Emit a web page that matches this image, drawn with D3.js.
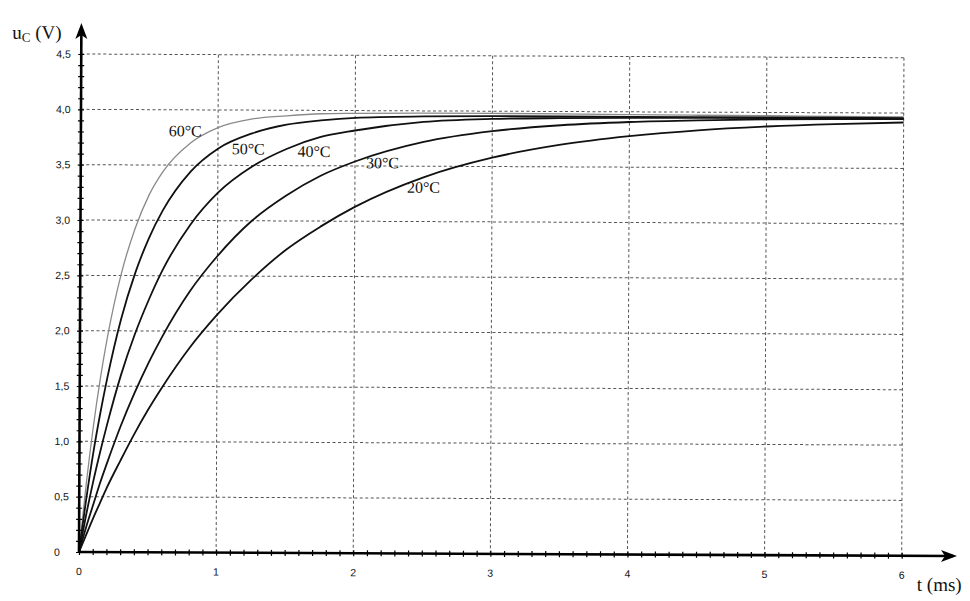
<!DOCTYPE html>
<html>
<head>
<meta charset="utf-8">
<script src="https://cdn.jsdelivr.net/npm/d3@7"></script>
<style>
  html, body { margin: 0; padding: 0; background: #fff; }
  svg { display: block; }
</style>
</head>
<body>
<svg id="chart" width="970" height="601"></svg>
<script>
// ---- data ----
const times = [0, 0.05, 0.1, 0.15, 0.2, 0.3, 0.4, 0.5, 0.6, 0.8, 1.0, 1.25, 1.5, 1.75, 2.0, 2.5, 3.0, 3.5, 4.0, 4.5, 5.0, 5.5, 6.0];
const series = ["60°C", "50°C", "40°C", "30°C", "20°C"];
const u60 = [0, 0.61, 1.13, 1.57, 1.94, 2.52, 2.93, 3.23, 3.44, 3.70, 3.84, 3.92, 3.95, 3.97, 3.975, 3.98, 3.98, 3.978, 3.975, 3.972, 3.97, 3.967, 3.965];
const u50 = [0, 0.47, 0.89, 1.25, 1.57, 2.11, 2.52, 2.84, 3.09, 3.44, 3.65, 3.79, 3.87, 3.91, 3.935, 3.95, 3.955, 3.955, 3.955, 3.955, 3.955, 3.955, 3.955];
const u40 = [0, 0.33, 0.63, 0.90, 1.15, 1.60, 1.97, 2.28, 2.55, 2.96, 3.25, 3.49, 3.65, 3.76, 3.82, 3.90, 3.93, 3.94, 3.945, 3.948, 3.95, 3.95, 3.95];
const u30 = [0, 0.22, 0.42, 0.62, 0.80, 1.14, 1.44, 1.71, 1.95, 2.36, 2.68, 3.00, 3.23, 3.41, 3.54, 3.72, 3.82, 3.876, 3.908, 3.926, 3.937, 3.943, 3.946];
const u20 = [0, 0.15, 0.30, 0.44, 0.58, 0.83, 1.07, 1.29, 1.49, 1.85, 2.15, 2.47, 2.74, 2.95, 3.13, 3.40, 3.58, 3.70, 3.78, 3.836, 3.873, 3.898, 3.915];
const xTicks = [0, 1, 2, 3, 4, 5, 6];
const yTicks = [0, 0.5, 1.0, 1.5, 2.0, 2.5, 3.0, 3.5, 4.0, 4.5];
const yTickLabels = ["0", "0,5", "1,0", "1,5", "2,0", "2,5", "3,0", "3,5", "4,0", "4,5"];
const curveLabels = [
  { name: "60°C", t: 0.64, u: 3.76 },
  { name: "50°C", t: 1.1, u: 3.6 },
  { name: "40°C", t: 1.58, u: 3.58 },
  { name: "30°C", t: 2.08, u: 3.48 },
  { name: "20°C", t: 2.38, u: 3.26 }
];
const values = [u60, u50, u40, u30, u20];

// ---- layout ----
const svg = d3.select("#chart");
const ox = 79, oy = 552;
const x = d3.scaleLinear().domain([0, 6]).range([ox, ox + 822.7]);
const y = d3.scaleLinear().domain([0, 4.5]).range([oy, oy - 498]);

// the scanned figure is slightly rotated clockwise
const g = svg.append("g").attr("transform", `rotate(0.26, ${ox}, ${oy})`);

// grid
const grid = g.append("g").attr("stroke", "#555").attr("stroke-width", 1).attr("stroke-dasharray", "3,2.5").attr("fill", "none");
grid.selectAll("line.h").data(yTicks.filter(d => d > 0)).join("line")
  .attr("class", "h")
  .attr("x1", x(0)).attr("x2", x(6))
  .attr("y1", d => y(d)).attr("y2", d => y(d));
grid.selectAll("line.v").data(xTicks.filter(d => d > 0)).join("line")
  .attr("class", "v")
  .attr("x1", d => x(d)).attr("x2", d => x(d))
  .attr("y1", y(0)).attr("y2", y(4.5));

// curves
const line = d3.line().x((d, i) => x(times[i])).y(d => y(d)).curve(d3.curveMonotoneX);
g.append("g").selectAll("path").data(values).join("path")
  .attr("d", d => line(d))
  .attr("fill", "none")
  .attr("stroke", (d, i) => i === 0 ? "#8a8a8a" : "#111")
  .attr("stroke-width", (d, i) => i === 0 ? 1.3 : 1.8);

// axes with minor ticks
const xAxis = d3.axisBottom(x).tickValues(d3.range(0, 61).map(d => d / 10)).tickSize(6).tickFormat("");
const xa = g.append("g").attr("transform", `translate(0, ${oy - 3})`).call(xAxis);
xa.select(".domain").remove();
xa.selectAll(".tick line").attr("stroke", "#000").attr("stroke-width", 1.2);

const yAxis = d3.axisLeft(y).tickValues(d3.range(0, 46).map(d => d / 10)).tickSize(6).tickFormat("");
const ya = g.append("g").attr("transform", `translate(${ox + 3}, 0)`).call(yAxis);
ya.select(".domain").remove();
ya.selectAll(".tick line").attr("stroke", "#000").attr("stroke-width", 1.2);

// axis lines with arrows
g.append("line").attr("x1", ox).attr("x2", 953).attr("y1", oy).attr("y2", oy)
  .attr("stroke", "#000").attr("stroke-width", 2.6);
g.append("line").attr("x1", ox).attr("x2", ox).attr("y1", oy).attr("y2", 27)
  .attr("stroke", "#000").attr("stroke-width", 2.6);
g.append("path").attr("d", `M957,${oy} L941,${oy - 6} L945,${oy} L941,${oy + 6} Z`).attr("fill", "#000");
g.append("path").attr("d", `M${ox},23 L${ox - 6},39 L${ox},35 L${ox + 6},39 Z`).attr("fill", "#000");

// tick labels
g.append("g").selectAll("text").data(yTicks).join("text")
  .attr("x", 54).attr("y", d => y(d)).attr("dy", "0.36em")
  .attr("font-family", "Liberation Sans, Arial, sans-serif").attr("font-size", 10.5)
  .attr("fill", "#111")
  .text((d, i) => yTickLabels[i]);
g.append("g").selectAll("text").data(xTicks).join("text")
  .attr("x", d => x(d)).attr("y", 575).attr("text-anchor", "middle")
  .attr("font-family", "Liberation Sans, Arial, sans-serif").attr("font-size", 10.5)
  .attr("fill", "#111")
  .text(d => d);

// curve labels
g.append("g").selectAll("text").data(curveLabels).join("text")
  .attr("x", d => x(d.t)).attr("y", d => y(d.u))
  .attr("font-family", "Liberation Serif, Times New Roman, serif").attr("font-size", 16)
  .attr("fill", "#111")
  .text(d => d.name);

// axis titles
const yt = g.append("text").attr("x", 10).attr("y", 39)
  .attr("font-family", "Liberation Serif, Times New Roman, serif").attr("font-size", 19).attr("fill", "#111");
yt.append("tspan").text("u");
yt.append("tspan").attr("font-size", 13).attr("dy", 3).text("C");
yt.append("tspan").attr("dy", -3).text(" (V)");

g.append("text").attr("x", 917).attr("y", 587)
  .attr("font-family", "Liberation Serif, Times New Roman, serif").attr("font-size", 19).attr("fill", "#111")
  .text("t (ms)");
</script>
</body>
</html>
